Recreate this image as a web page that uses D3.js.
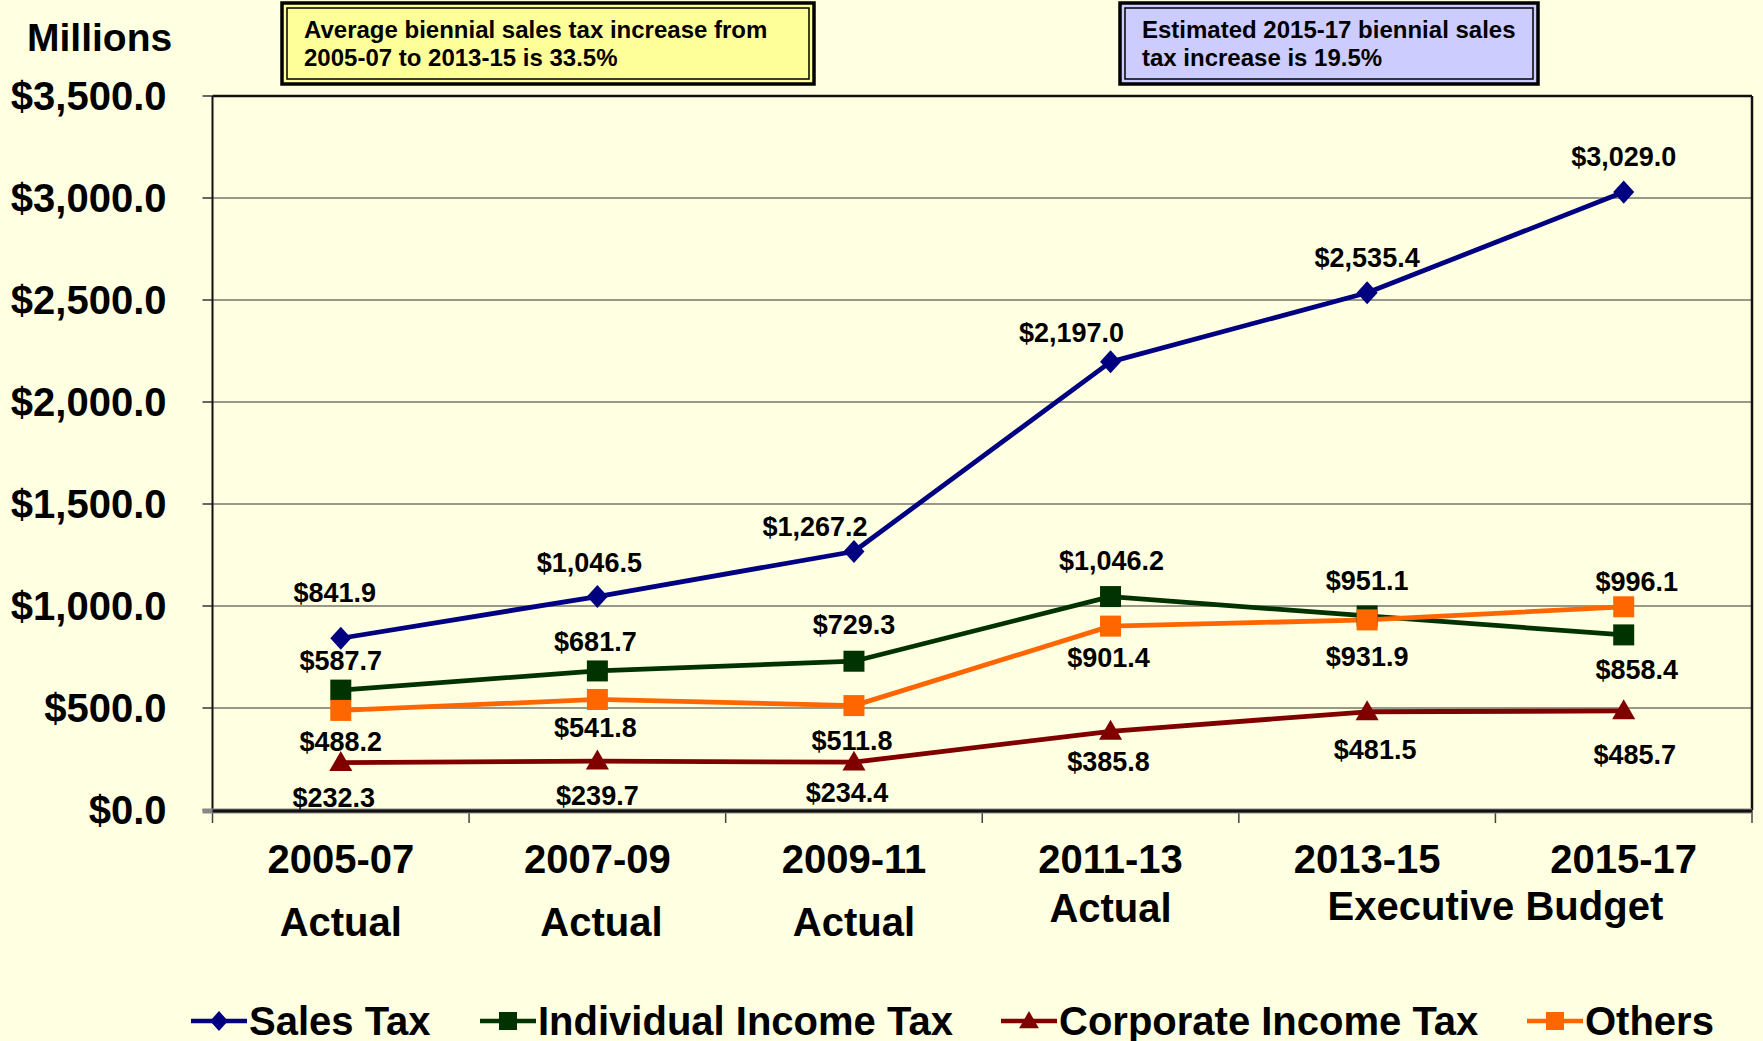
<!DOCTYPE html>
<html>
<head>
<meta charset="utf-8">
<script src="https://cdn.jsdelivr.net/npm/d3@7"></script>
<style>
  body { margin: 0; background: #ffffe1; }
  text { font-family: "Liberation Sans", Arial, sans-serif; font-weight: bold; fill: #000; }
</style>
</head>
<body>
<svg id="chart" width="1763" height="1041"></svg>
<script>
const periods = ["2005-07", "2007-09", "2009-11", "2011-13", "2013-15", "2015-17"];
const periodNotes = ["Actual", "Actual", "Actual", "Actual"];
const budgetNote = "Executive Budget";

const salesTax = [841.9, 1046.5, 1267.2, 2197.0, 2535.4, 3029.0];
const individualIncomeTax = [587.7, 681.7, 729.3, 1046.2, 951.1, 858.4];
const corporateIncomeTax = [232.3, 239.7, 234.4, 385.8, 481.5, 485.7];
const others = [488.2, 541.8, 511.8, 901.4, 931.9, 996.1];

const yTicks = [0, 500, 1000, 1500, 2000, 2500, 3000, 3500];
const seriesNames = ["Sales Tax", "Individual Income Tax", "Corporate Income Tax", "Others"];

const noteLeft = ["Average biennial sales tax increase from", "2005-07 to 2013-15 is 33.5%"];
const noteRight = ["Estimated 2015-17 biennial sales", "tax increase is 19.5%"];

// look of each series; lab = [dx, dy] of each value label centre from its point
const series = [
  { name: seriesNames[0], values: salesTax, color: "#000080", marker: "diamond",
    lab: [[-6, -46], [-8, -35], [-39, -25], [-39, -30], [0, -36], [0, -36]] },
  { name: seriesNames[1], values: individualIncomeTax, color: "#003300", marker: "square",
    lab: [[0, -30], [-2, -30], [0, -37], [1, -37], [0, -36], [13, 34]] },
  { name: seriesNames[2], values: corporateIncomeTax, color: "#800000", marker: "triangle",
    lab: [[-7, 34], [0, 34], [-7, 30], [-2, 30], [8, 37], [11, 43]] },
  { name: seriesNames[3], values: others, color: "#ff6600", marker: "square",
    lab: [[0, 31], [-2, 28], [-2, 34], [-2, 31], [0, 36], [13, -26]] }
];

const margin = { top: 96, left: 212.5 },
    width = 1539.5,
    height = 714;

const svg = d3.select("#chart");
svg.append("rect").attr("width", 1763).attr("height", 1041).attr("fill", "#ffffe1");

const g = svg.append("g").attr("transform", `translate(${margin.left},${margin.top})`);

const x = d3.scaleBand().domain(periods).range([0, width]).paddingInner(0).paddingOuter(0);
const y = d3.scaleLinear().domain([0, 3500]).range([height, 0]);
const cx = d => x(d) + x.bandwidth() / 2;

// gridlines
g.selectAll(".grid").data(yTicks.slice(1, -1)).join("line")
    .attr("x1", 0).attr("x2", width)
    .attr("y1", d => y(d)).attr("y2", d => y(d))
    .attr("stroke", "#333").attr("stroke-width", 1.2);

// y ticks and labels
g.selectAll(".ytick").data(yTicks).join("line")
    .attr("x1", -10).attr("x2", 0)
    .attr("y1", d => y(d)).attr("y2", d => y(d))
    .attr("stroke", "#666").attr("stroke-width", 2);

g.selectAll(".ylab").data(yTicks).join("text")
    .attr("x", -46).attr("y", d => y(d) + 14)
    .attr("text-anchor", "end").style("font-size", "40px")
    .text(d => d3.format("$,.1f")(d));

svg.append("text").attr("x", 27).attr("y", 51).style("font-size", "39px").text("Millions");

// frame
g.append("line").attr("x1", 0).attr("x2", width).attr("y1", 0).attr("y2", 0).attr("stroke", "#111").attr("stroke-width", 2.5);
g.append("line").attr("x1", width).attr("x2", width).attr("y1", 0).attr("y2", height).attr("stroke", "#111").attr("stroke-width", 2.5);
g.append("line").attr("x1", 0).attr("x2", 0).attr("y1", 0).attr("y2", height).attr("stroke", "#111").attr("stroke-width", 2);

// x ticks at band edges
const edges = periods.map(p => x(p)).concat([width]);
g.selectAll(".xtick").data(edges).join("line")
    .attr("x1", d => d).attr("x2", d => d)
    .attr("y1", height).attr("y2", height + 13)
    .attr("stroke", "#444").attr("stroke-width", 1.5);
g.append("line").attr("x1", -10).attr("x2", width).attr("y1", height + 1).attr("y2", height + 1)
    .attr("stroke", "#888").attr("stroke-width", 5);
g.append("line").attr("x1", 0).attr("x2", width).attr("y1", height + 1).attr("y2", height + 1)
    .attr("stroke", "#111").attr("stroke-width", 3);

// x labels
g.selectAll(".xlab").data(periods).join("text")
    .attr("x", cx).attr("y", height + 63)
    .attr("text-anchor", "middle").style("font-size", "40px").text(d => d);

g.selectAll(".xnote").data(periodNotes).join("text")
    .attr("x", (d, i) => cx(periods[i]) + (i === 1 ? 4 : 0))
    .attr("y", (d, i) => height + (i === 3 ? 112 : 126))
    .attr("text-anchor", "middle").style("font-size", "40px").text(d => d);

g.append("text")
    .attr("x", (cx(periods[4]) + cx(periods[5])) / 2).attr("y", height + 110)
    .attr("text-anchor", "middle").style("font-size", "40px").text(budgetNote);

// markers
function marker(sel, type, color, s) {
  if (type === "diamond") {
    sel.append("path").attr("d", `M0,${-s * 0.55}L${s * 0.5},0L0,${s * 0.55}L${-s * 0.5},0Z`).attr("fill", color);
  } else if (type === "square") {
    sel.append("rect").attr("x", -s / 2).attr("y", -s / 2).attr("width", s).attr("height", s).attr("fill", color);
  } else {
    sel.append("path").attr("d", `M0,${-s * 0.55}L${s * 0.55},${s * 0.4}L${-s * 0.55},${s * 0.4}Z`).attr("fill", color);
  }
}

const line = d3.line().x((d, i) => cx(periods[i])).y(d => y(d));

series.forEach(s => {
  g.append("path").datum(s.values).attr("d", line)
      .attr("fill", "none").attr("stroke", s.color).attr("stroke-width", 4.8).attr("stroke-linejoin", "round");
});
series.forEach(s => {
  s.values.forEach((v, i) => {
    const m = g.append("g").attr("transform", `translate(${cx(periods[i])},${y(v)})`);
    marker(m, s.marker, s.color, 21);
  });
});
series.forEach(s => {
  g.selectAll(null).data(s.values).join("text")
      .attr("x", (d, i) => cx(periods[i]) + s.lab[i][0])
      .attr("y", (d, i) => y(d) + s.lab[i][1] + 10)
      .attr("text-anchor", "middle").style("font-size", "27px")
      .text(d => d3.format("$,.1f")(d));
});

// annotation boxes
function note(x0, y0, w, h, fill, lines) {
  const b = svg.append("g").attr("transform", `translate(${x0},${y0})`);
  b.append("rect").attr("width", w).attr("height", h).attr("fill", fill).attr("stroke", "#000").attr("stroke-width", 3.5);
  b.append("rect").attr("x", 5).attr("y", 5).attr("width", w - 10).attr("height", h - 10)
      .attr("fill", fill).attr("stroke", "#000").attr("stroke-width", 1.5);
  b.selectAll("text").data(lines).join("text")
      .attr("x", 22).attr("y", (d, i) => 35 + i * 28)
      .style("font-size", "24px").text(d => d);
}
note(282, 3, 532, 81, "#ffff99", noteLeft);
note(1120, 3, 418, 81, "#ccccff", noteRight);

// legend
const legendX = [191, 480, 1001, 1527];
const legend = svg.append("g");
series.forEach((s, i) => {
  const lg = legend.append("g").attr("transform", `translate(${legendX[i]},1021)`);
  lg.append("line").attr("x1", 0).attr("x2", 56).attr("stroke", s.color).attr("stroke-width", 4.5);
  marker(lg.append("g").attr("transform", "translate(28,0)"), s.marker, s.color, 18);
  lg.append("text").attr("x", 58).attr("y", 14).style("font-size", "40px").text(s.name);
});
</script>
</body>
</html>
